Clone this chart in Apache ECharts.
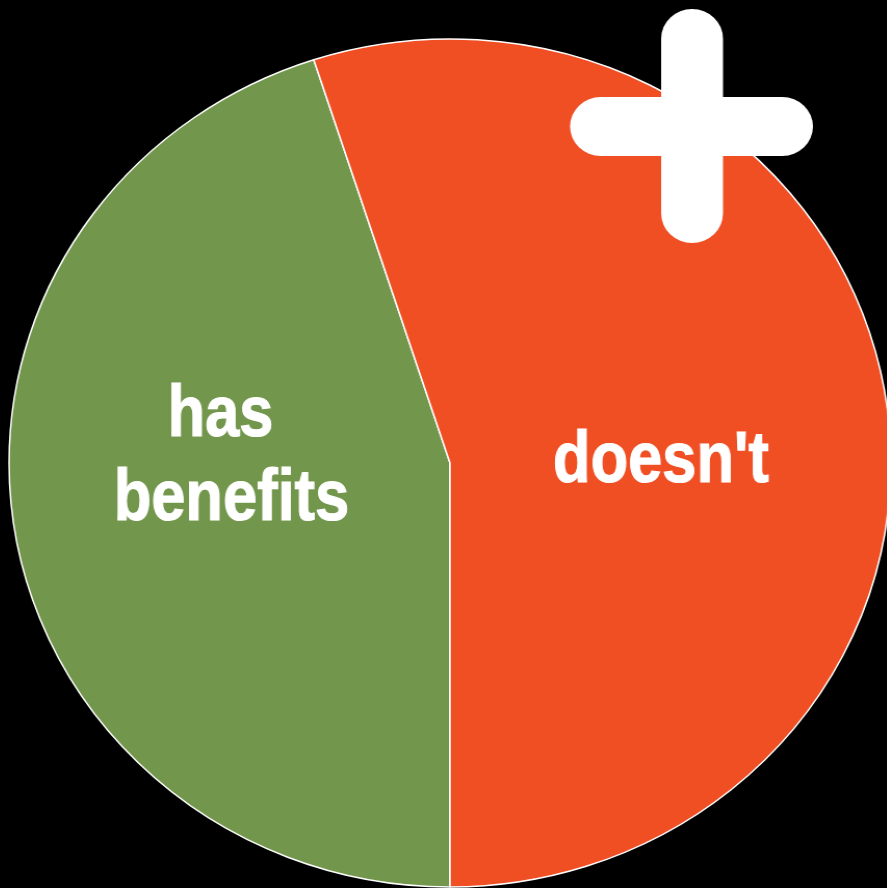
<!DOCTYPE html>
<html>
<head>
<meta charset="utf-8">
<title>Pie</title>
<script src="https://cdn.jsdelivr.net/npm/echarts@6/dist/echarts.min.js"></script>
<style>
  html, body { margin: 0; padding: 0; background: #000; overflow: hidden; }
  #chart {
    width: 887px; height: 888px;
    /* the pie is drawn slightly wider than tall */
    transform: scaleX(1.04);
    transform-origin: 450px 463px;
  }
</style>
</head>
<body>
<div id="chart"></div>
<script>
// Slice names and shares (percent)
var categories = ['has\nbenefits', "doesn't"];
var values = [45, 55];
var colors = ['#72964b', '#f04e23'];

// Where each caption line sits (centre x, middle y) and how narrow it is drawn
var captionLines = [
  [{ x: 229.3, y: 416.2 }, { x: 239.9, y: 499.7 }],
  [{ x: 652.9, y: 461.7 }]
];
var captionFont = 'bold 72px "Liberation Sans", Arial, sans-serif';
var captionSqueeze = 0.82;

var chart = echarts.init(document.getElementById('chart'), null, { renderer: 'canvas' });

var data = categories.map(function (name, i) {
  return { name: name, value: values[i], itemStyle: { color: colors[i] } };
});

// condensed captions, one text element per line of each category name
var captions = [];
categories.forEach(function (name, i) {
  name.split('\n').forEach(function (line, j) {
    var p = captionLines[i][j];
    captions.push({
      type: 'text', z: 50, silent: true,
      x: p.x, y: p.y, scaleX: captionSqueeze,
      style: {
        text: line, x: 0, y: 0,
        fill: '#ffffff',
        stroke: '#ffffff', lineWidth: 1.2,
        font: captionFont,
        textAlign: 'center', textVerticalAlign: 'middle',
        align: 'center', verticalAlign: 'middle'
      }
    });
  });
});

chart.setOption({
  backgroundColor: '#000',
  animation: false,
  series: [{
    type: 'pie',
    center: [450, 463],
    radius: 424,
    startAngle: 270,
    clockwise: true,
    silent: true,
    itemStyle: { borderColor: '#ffffff', borderWidth: 1.5 },
    label: { show: false },
    labelLine: { show: false },
    data: data
  }],
  graphic: captions.concat([
    // white plus badge
    {
      type: 'rect', z: 100,
      shape: { x: 653, y: 9, width: 59.5, height: 234, r: 29.7 },
      style: { fill: '#ffffff' }
    },
    {
      type: 'rect', z: 100,
      shape: { x: 565.4, y: 97, width: 233.6, height: 59, r: 29.5 },
      style: { fill: '#ffffff' }
    }
  ])
});
</script>
</body>
</html>
